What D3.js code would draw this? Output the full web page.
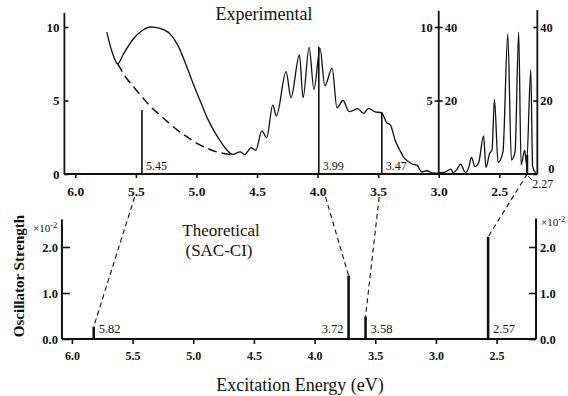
<!DOCTYPE html>
<html>
<head>
<meta charset="utf-8">
<script src="https://cdn.jsdelivr.net/npm/d3@7"></script>
<style>
  body { margin: 0; background: #fff; }
  svg text { font-family: "Liberation Serif", "Times New Roman", serif; fill: #111; }
</style>
</head>
<body>
<div id="chart"></div>
<script>
// experimental spectrum, 6.0 - 3.0 eV (left scale 0-10)
const expHighEnergy = [5.74, 5.70, 5.65, 5.60, 5.52, 5.45, 5.38, 5.30, 5.22, 5.15, 5.08, 5.02, 4.97, 4.91, 4.86, 4.80, 4.75, 4.70,
  4.64, 4.60, 4.55, 4.51, 4.46, 4.42, 4.37, 4.34, 4.26, 4.22, 4.15, 4.12, 4.07, 4.03, 3.98, 3.94, 3.88, 3.84, 3.79, 3.74,
  3.70, 3.67, 3.62, 3.58, 3.53, 3.47, 3.43, 3.40, 3.36, 3.32, 3.29, 3.25, 3.22, 3.18, 3.14, 3.10, 3.05, 3.00];
const expHighIntensity = [9.65, 8.4, 7.5, 8.2, 9.2, 9.75, 10.0, 9.9, 9.55, 8.7, 7.3, 6.0, 5.0, 3.8, 3.0, 2.2, 1.65, 1.33,
  1.5, 1.33, 1.78, 1.62, 2.93, 2.47, 4.69, 3.95, 6.96, 5.19, 8.1, 5.19, 8.62, 5.76, 8.55, 6.0, 7.2, 4.5, 5.0, 4.25,
  4.35, 4.45, 4.13, 4.47, 4.25, 4.15, 3.5, 3.35, 2.3, 1.6, 1.15, 0.85, 0.68, 0.6, 0.15, 0.22, 0.08, 0.05];
// 3.0 - 2.2 eV, read against the 0-40 scale
const expLowEnergy = [3.00, 2.95, 2.90, 2.88, 2.85, 2.82, 2.78, 2.75, 2.73, 2.70, 2.67, 2.63, 2.61, 2.58, 2.56, 2.54, 2.51,
  2.47, 2.43, 2.40, 2.37, 2.34, 2.32, 2.29, 2.275, 2.24, 2.225, 2.20];
const expLowIntensity = [0.3, 0.5, 1.3, 0.4, 1.2, 2.7, 0.4, 2.0, 4.5, 2.0, 3.1, 10.4, 1.8, 5.6, 6.5, 20.3, 3.1,
  6.0, 38.1, 3.8, 6.0, 38.6, 2.5, 6.5, 2.5, 28.3, 2.0, 0.3];
// dashed background under the 5.4 eV band
const bgEnergy = [5.65, 5.58, 5.52, 5.45, 5.38, 5.30, 5.24, 5.16, 5.08, 5.00, 4.91, 4.83, 4.75, 4.68];
const bgIntensity = [7.5, 6.55, 5.94, 5.25, 4.6, 4.0, 3.56, 3.0, 2.54, 2.1, 1.75, 1.5, 1.36, 1.3];

const expPeaks = [5.45, 3.99, 3.47, 2.27];
const expPeakHeights = [4.35, 8.65, 4.2, 5.2];   // last one on the 0-40 scale
const theoEnergy = [5.82, 3.72, 3.58, 2.57];
const theoStrength = [0.27, 1.38, 0.49, 2.22];  // x10^-2

const energyTicks = [6.0, 5.5, 5.0, 4.5, 4.0, 3.5, 3.0, 2.5];
const leftTicks = [0, 5, 10];
const rightTicks = [0, 20, 40];
const strengthTicks = [0.0, 1.0, 2.0];

const width = 568, height = 396;
const ink = '#111';
const serif = '"Liberation Serif", "Times New Roman", serif';

const svg = d3.select('#chart').append('svg')
  .attr('width', width)
  .attr('height', height);

// scales
const xTop = d3.scaleLinear().domain([6, 2.5]).range([75.3, 499.3]);
const yTop = d3.scaleLinear().domain([0, 10]).range([174, 27]);
const yTopR = d3.scaleLinear().domain([0, 40]).range([174, 27]);
const xBot = d3.scaleLinear().domain([6, 2.5]).range([71.9, 496.6]);
const yBot = d3.scaleLinear().domain([0, 2]).range([339, 247]);

function styleAxis(g, size, bold) {
  g.attr('font-family', serif);
  g.select('.domain').remove();
  g.selectAll('line').attr('stroke', ink).attr('stroke-width', 1.6);
  g.selectAll('text')
    .style('font-family', serif)
    .style('font-size', size + 'px')
    .style('font-weight', bold ? 'bold' : 'normal')
    .attr('fill', ink);
}

function axisLine(x1, y1, x2, y2, w) {
  svg.append('line')
    .attr('x1', x1).attr('y1', y1).attr('x2', x2).attr('y2', y2)
    .attr('stroke', ink).attr('stroke-width', w || 1.8);
}

// ---------- Experimental panel ----------
axisLine(xTop(6.09), yTop(0), xTop(2.186), yTop(0));
axisLine(xTop(6.09), yTop(0), xTop(6.09), yTop(10.95));
axisLine(xTop(3.0), yTop(0), xTop(3.0), yTop(11.1));
axisLine(xTop(2.186), yTop(0), xTop(2.186), yTop(11.15));

svg.append('g')
  .attr('transform', 'translate(0,' + yTop(0) + ')')
  .call(d3.axisBottom(xTop).tickValues(energyTicks).tickFormat(d3.format('.1f'))
    .tickSizeInner(4).tickSizeOuter(0).tickPadding(8))
  .call(g => styleAxis(g, 13.5, true));

svg.append('g')
  .attr('transform', 'translate(' + xTop(6.09) + ',0)')
  .call(d3.axisLeft(yTop).tickValues(leftTicks).tickSizeInner(-4).tickSizeOuter(0).tickPadding(5))
  .call(g => styleAxis(g, 13, true));

// break axis at 3.0 eV: 0-10 on the left, 0-40 on the right
svg.append('g')
  .attr('transform', 'translate(' + xTop(3.0) + ',0)')
  .call(d3.axisLeft(yTop).tickValues([5, 10]).tickSizeInner(4).tickSizeOuter(0).tickPadding(2))
  .call(g => styleAxis(g, 12.5, true));
svg.append('g')
  .attr('transform', 'translate(' + xTop(3.0) + ',0)')
  .call(d3.axisRight(yTopR).tickValues([20, 40]).tickSizeInner(4).tickSizeOuter(0).tickPadding(2))
  .call(g => styleAxis(g, 12.5, true));

svg.append('g')
  .attr('transform', 'translate(' + xTop(2.186) + ',0)')
  .call(d3.axisRight(yTopR).tickValues(rightTicks).tickSizeInner(-4).tickSizeOuter(0).tickPadding(3))
  .call(g => styleAxis(g, 12.5, true))
  .call(g => g.selectAll('.tick').filter(d => d === 0).select('text').attr('dx', 8).attr('dy', '-0.1em'));

const lineHigh = d3.line()
  .x(d => xTop(d[0]))
  .y(d => yTop(d[1]))
  .curve(d3.curveMonotoneX);
const lineLow = d3.line()
  .x(d => xTop(d[0]))
  .y(d => yTopR(d[1]))
  .curve(d3.curveMonotoneX);

svg.append('path')
  .datum(d3.zip(bgEnergy, bgIntensity))
  .attr('d', lineHigh)
  .attr('fill', 'none')
  .attr('stroke', ink)
  .attr('stroke-width', 1.5)
  .attr('stroke-dasharray', '9,5');

svg.append('path')
  .datum(d3.zip(expHighEnergy, expHighIntensity))
  .attr('d', lineHigh)
  .attr('fill', 'none')
  .attr('stroke', ink)
  .attr('stroke-width', 1.3)
  .attr('stroke-linejoin', 'round');

svg.append('path')
  .datum(d3.zip(expLowEnergy, expLowIntensity))
  .attr('d', lineLow)
  .attr('fill', 'none')
  .attr('stroke', ink)
  .attr('stroke-width', 1.3)
  .attr('stroke-linejoin', 'round');

// assignment sticks
const expY = e => (e < 3 ? yTopR : yTop);
svg.append('g')
  .selectAll('line')
  .data(d3.zip(expPeaks, expPeakHeights))
  .enter().append('line')
    .attr('x1', d => xTop(d[0])).attr('x2', d => xTop(d[0]))
    .attr('y1', yTop(0))
    .attr('y2', d => expY(d[0])(d[1]))
    .attr('stroke', ink)
    .attr('stroke-width', d => (d[0] < 3 ? 2.2 : 1.6));

svg.append('g')
  .selectAll('text')
  .data(expPeaks)
  .enter().append('text')
    .attr('x', e => xTop(e) + (e < 3 ? 5 : 4))
    .attr('y', e => (e < 3 ? yTop(0) + 14 : yTop(0) - 4))
    .style('font-size', '12px')
    .text(e => e.toFixed(2));

// leader for the crowded 2.27 label
expPeaks.filter(e => e < 3).forEach(e => {
  svg.append('line')
    .attr('x1', xTop(e) + 1).attr('y1', yTop(0) + 2)
    .attr('x2', xTop(e) + 5).attr('y2', yTop(0) + 6)
    .attr('stroke', ink).attr('stroke-width', 1);
});

svg.append('text')
  .attr('x', 264)
  .attr('y', 20)
  .attr('text-anchor', 'middle')
  .style('font-size', '18px')
  .text('Experimental');

// ---------- Theoretical panel ----------
axisLine(xBot(6.082), yBot(0), xBot(2.175), yBot(0), 2);
axisLine(xBot(6.082), yBot(0), xBot(6.082), yBot(2.6), 2);
axisLine(xBot(2.175), yBot(0), xBot(2.175), yBot(2.62), 2);

svg.append('g')
  .attr('transform', 'translate(0,' + yBot(0) + ')')
  .call(d3.axisBottom(xBot).tickValues(energyTicks).tickFormat(d3.format('.1f'))
    .tickSizeInner(5).tickSizeOuter(0).tickPadding(7))
  .call(g => styleAxis(g, 12, true));

svg.append('g')
  .attr('transform', 'translate(' + xBot(6.082) + ',0)')
  .call(d3.axisLeft(yBot).tickValues(strengthTicks).tickFormat(d3.format('.1f'))
    .tickSizeInner(-8).tickSizeOuter(0).tickPadding(4))
  .call(g => styleAxis(g, 12.5, true));

svg.append('g')
  .attr('transform', 'translate(' + xBot(2.175) + ',0)')
  .call(d3.axisRight(yBot).tickValues(strengthTicks).tickFormat(d3.format('.1f'))
    .tickSizeInner(-7).tickSizeOuter(0).tickPadding(4))
  .call(g => styleAxis(g, 12.5, true));

function powerLabel(x, y) {
  const t = svg.append('text')
    .attr('x', x).attr('y', y)
    .style('font-size', '11px');
  t.append('tspan').text('\u00d710');
  t.append('tspan').attr('dy', -4).style('font-size', '8.5px').text('-2');
}
powerLabel(xBot(6.082) - 29, yBot(2.4) + 3);
powerLabel(xBot(2.175) + 5, yBot(2.55) + 4);

svg.append('g')
  .selectAll('line')
  .data(d3.zip(theoEnergy, theoStrength))
  .enter().append('line')
    .attr('x1', d => xBot(d[0])).attr('x2', d => xBot(d[0]))
    .attr('y1', yBot(0))
    .attr('y2', d => yBot(d[1]))
    .attr('stroke', ink)
    .attr('stroke-width', 2.6);

// label goes on the left when another line sits just below in energy
const crowded = e => theoEnergy.some(o => o < e && e - o < 0.2);
svg.append('g')
  .selectAll('text')
  .data(theoEnergy)
  .enter().append('text')
    .attr('x', e => xBot(e) + (crowded(e) ? -5 : 5))
    .attr('y', yBot(0) - 6)
    .attr('text-anchor', e => (crowded(e) ? 'end' : 'start'))
    .style('font-size', '12.5px')
    .text(e => e.toFixed(2));

svg.append('text')
  .attr('x', 221).attr('y', 236)
  .attr('text-anchor', 'middle')
  .style('font-size', '17px')
  .text('Theoretical');
svg.append('text')
  .attr('x', 219).attr('y', 256)
  .attr('text-anchor', 'middle')
  .style('font-size', '17px')
  .text('(SAC-CI)');

// ---------- correlation lines ----------
// aimed at the experimental stick foot, starting under the tick labels
svg.append('g')
  .selectAll('line')
  .data(d3.zip(expPeaks, theoEnergy, theoStrength))
  .enter().append('line')
    .each(function (d) {
      const x0 = xTop(d[0]), y0 = yTop(0);
      const x1 = xBot(d[1]), y1 = yBot(d[2]);
      const gap = d[0] > 3 ? 23 : 0;
      const t = gap / (y1 - y0);
      d3.select(this)
        .attr('x1', x0 + (x1 - x0) * t).attr('y1', y0 + gap)
        .attr('x2', x1).attr('y2', y1);
    })
    .attr('stroke', ink)
    .attr('stroke-width', 1.1)
    .attr('stroke-dasharray', '5,3.5');

// ---------- axis titles ----------
svg.append('text')
  .attr('transform', 'translate(24,276) rotate(-90)')
  .attr('text-anchor', 'middle')
  .style('font-size', '15px')
  .style('font-weight', 'bold')
  .text('Oscillator Strength');

svg.append('text')
  .attr('x', 300).attr('y', 391)
  .attr('text-anchor', 'middle')
  .style('font-size', '18px')
  .text('Excitation Energy (eV)');
</script>
</body>
</html>
